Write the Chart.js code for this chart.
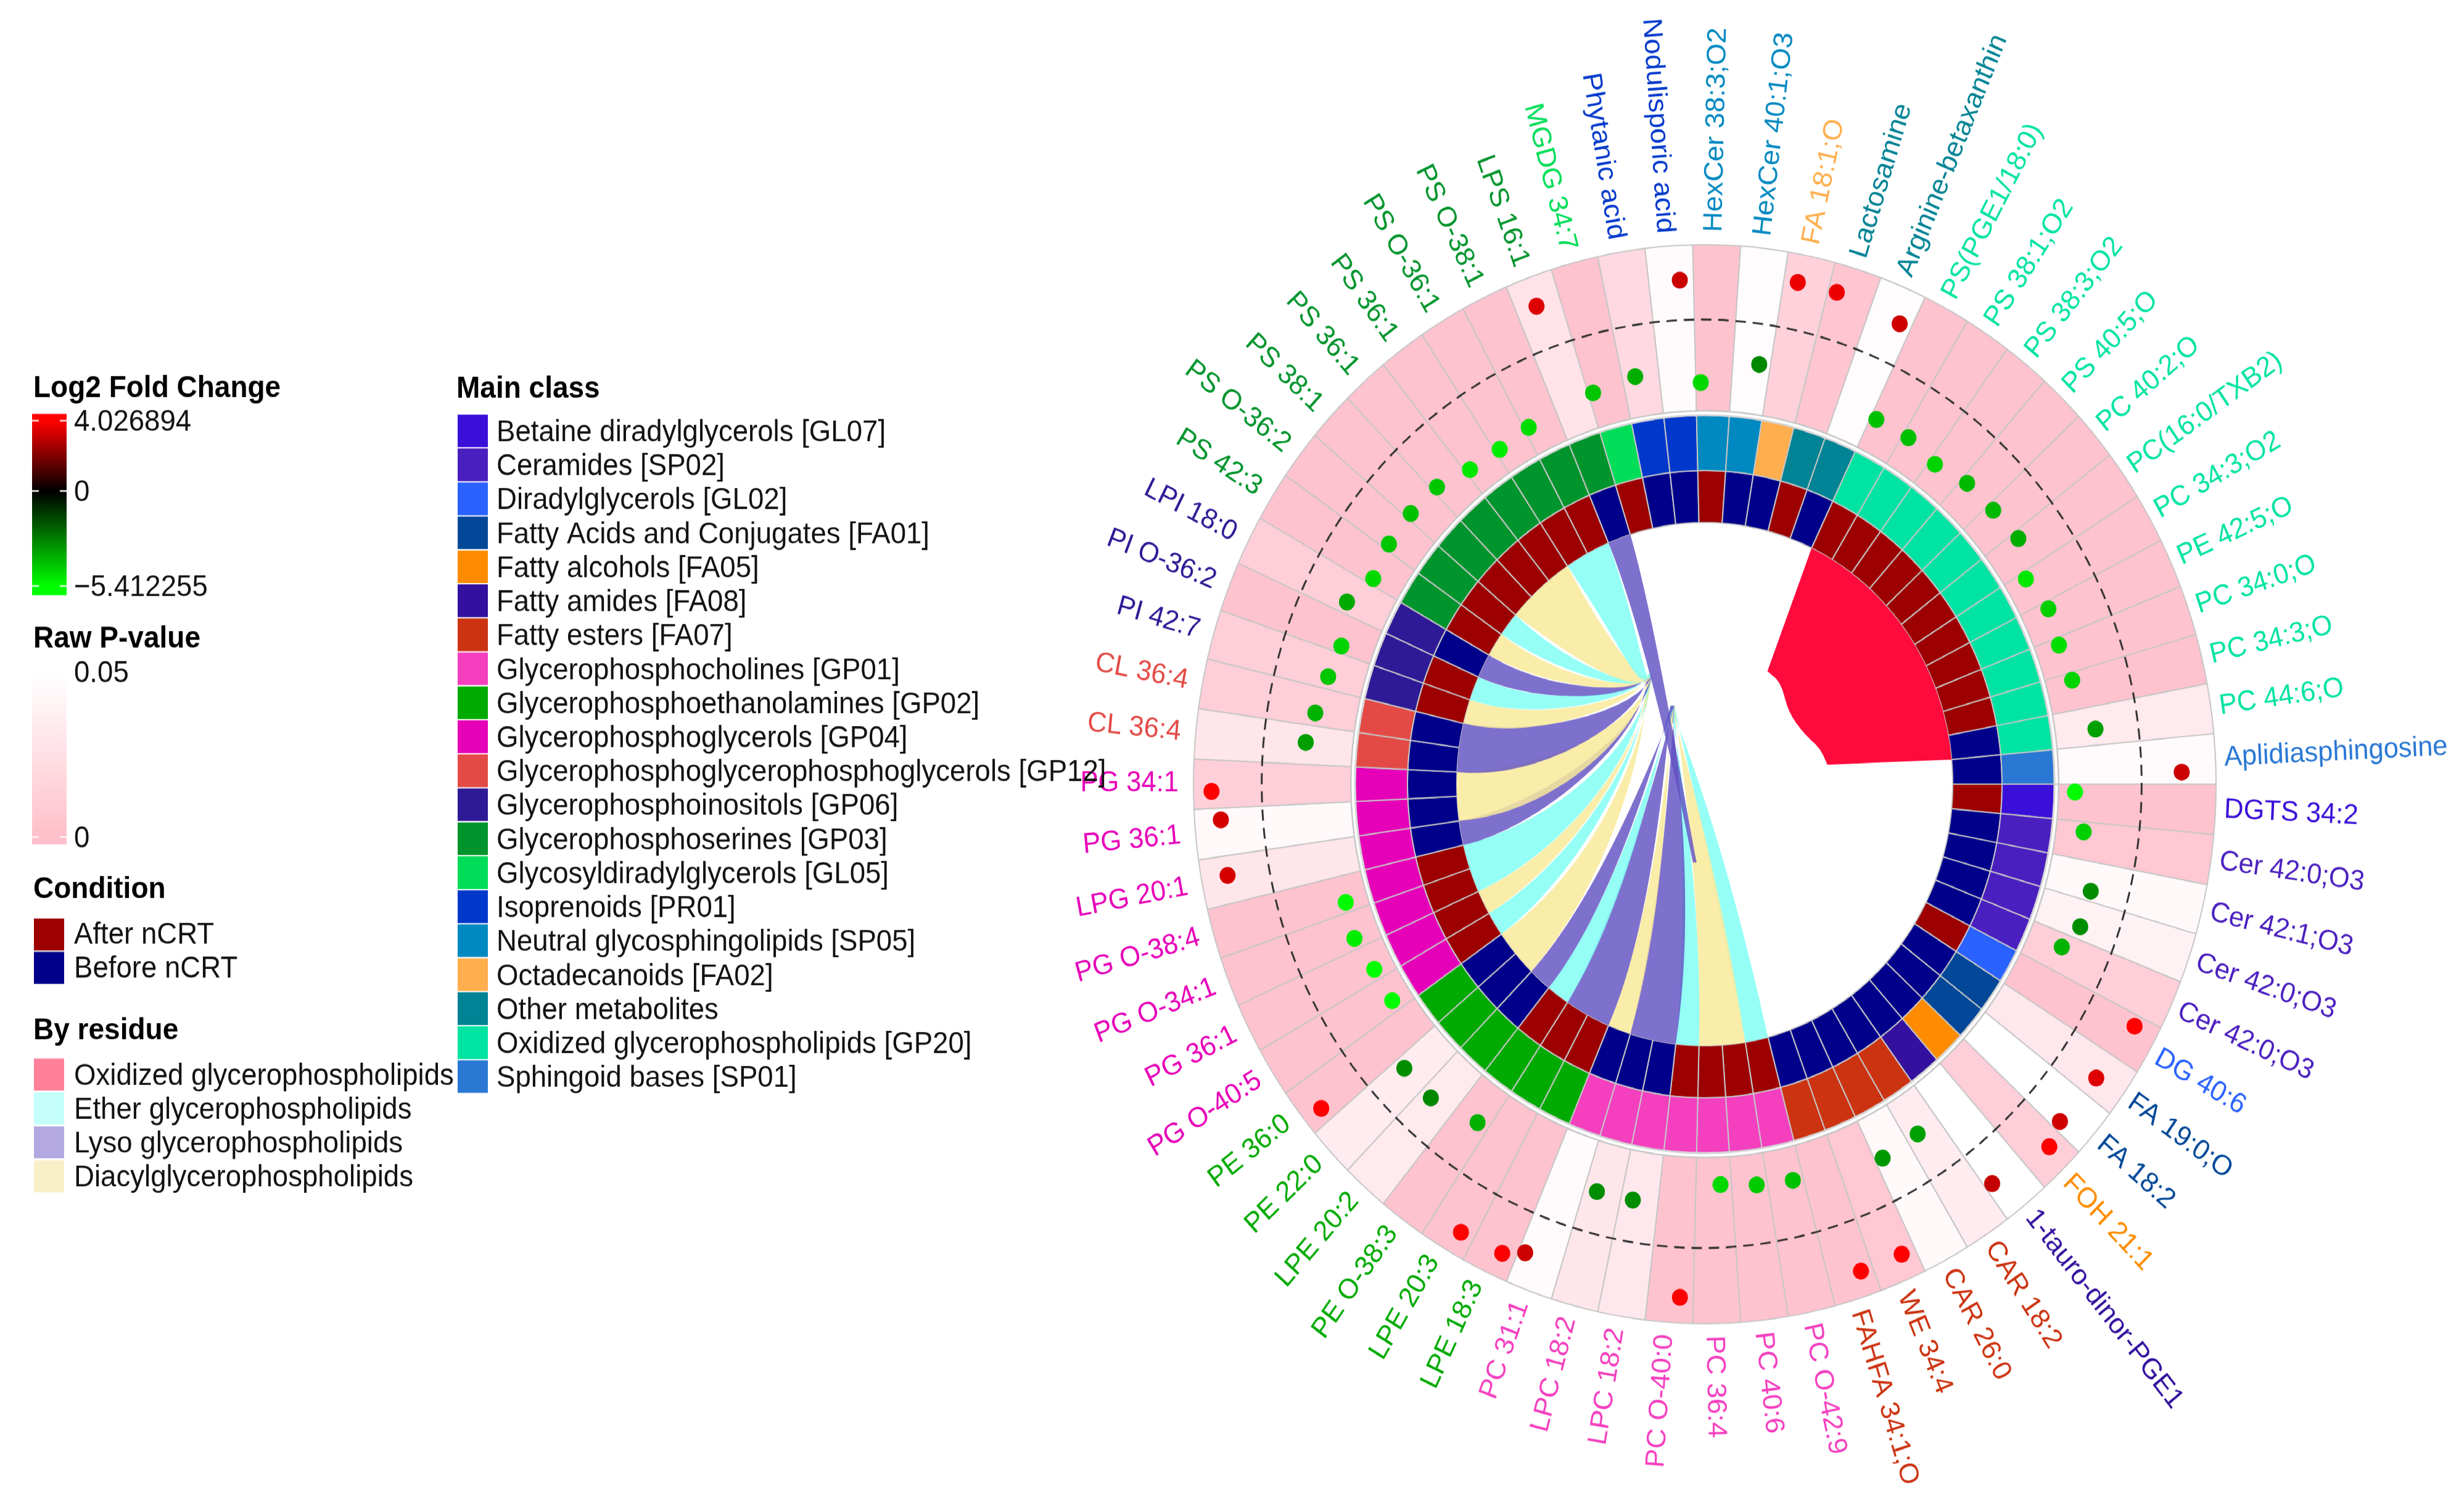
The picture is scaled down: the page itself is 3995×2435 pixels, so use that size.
<!DOCTYPE html>
<html>
<head>
<meta charset="utf-8">
<style>
  html, body { margin: 0; padding: 0; background: #fff; width: 3995px; height: 2435px; }
  html { overflow: hidden; }
  #wrap { position: relative; width: 3995px; height: 2308px; transform-origin: 0 0; transform: scale(1, 1.05503); }
  #wrap canvas { position: absolute; left: 0; top: 0; }
</style>
<script src="https://cdn.jsdelivr.net/npm/chart.js@4"></script>
</head>
<body>
<div id="wrap">
  <canvas id="rings" width="3995" height="2308"></canvas>
  <canvas id="dots" width="3995" height="2308"></canvas>
</div>
<script>
// sectors run clockwise from 3 o'clock
const lipidNames = [
  "DGTS 34:2", "Cer 42:0;O3", "Cer 42:1;O3", "Cer 42:0;O3", "Cer 42:0;O3", "DG 40:6", "FA 19:0;O", "FA 18:2",
  "FOH 21:1", "1-tauro-dinor-PGE1", "CAR 18:2", "CAR 26:0", "WE 34:4", "FAHFA 34:1;O", "PC O-42:9", "PC 40:6",
  "PC 36:4", "PC O-40:0", "LPC 18:2", "LPC 18:2", "PC 31:1", "LPE 18:3", "LPE 20:3", "PE O-38:3", "LPE 20:2",
  "PE 22:0", "PE 36:0", "PG O-40:5", "PG 36:1", "PG O-34:1", "PG O-38:4", "LPG 20:1", "PG 36:1", "PG 34:1",
  "CL 36:4", "CL 36:4", "PI 42:7", "PI O-36:2", "LPI 18:0", "PS 42:3", "PS O-36:2", "PS 38:1", "PS 36:1", "PS 36:1",
  "PS O-36:1", "PS O-38:1", "LPS 16:1", "MGDG 34:7", "Phytanic acid", "Nodulisporic acid", "HexCer 38:3;O2",
  "HexCer 40:1;O3", "FA 18:1;O", "Lactosamine", "Arginine-betaxanthin", "PS(PGE1/18:0)", "PS 38:1;O2", "PS 38:3;O2",
  "PS 40:5;O", "PC 40:2;O", "PC(16:0/TXB2)", "PC 34:3;O2", "PE 42:5;O", "PC 34:0;O", "PC 34:3;O", "PC 44:6;O",
  "Aplidiasphingosine"
];
const classNames = [
  "Betaine diradylglycerols [GL07]", "Ceramides [SP02]", "Diradylglycerols [GL02]", "Fatty Acids and Conjugates [FA01]",
  "Fatty alcohols [FA05]", "Fatty amides [FA08]", "Fatty esters [FA07]", "Glycerophosphocholines [GP01]",
  "Glycerophosphoethanolamines [GP02]", "Glycerophosphoglycerols [GP04]",
  "Glycerophosphoglycerophosphoglycerols [GP12]", "Glycerophosphoinositols [GP06]", "Glycerophosphoserines [GP03]",
  "Glycosyldiradylglycerols [GL05]", "Isoprenoids [PR01]", "Neutral glycosphingolipids [SP05]", "Octadecanoids [FA02]",
  "Other metabolites", "Oxidized glycerophospholipids [GP20]", "Sphingoid bases [SP01]"
];
const classColors = [
  "#3a10d8", "#4a1fbf", "#2a62ff", "#034898", "#ff8c00", "#33109e", "#cc3311", "#f43fbf", "#00aa00", "#e600b8",
  "#e34a46", "#2e1a96", "#00942c", "#00dd58", "#0038cc", "#0088c0", "#ffae4d", "#008394", "#00e3a2", "#2a78d4"
];
const sectorClass = [
  0, 1, 1, 1, 1, 2, 3, 3, 4, 5, 6, 6, 6, 6, 7, 7, 7, 7, 7, 7, 7, 8, 8, 8, 8, 8, 8, 9, 9, 9, 9, 9, 9, 9, 10, 10,
  11, 11, 11, 12, 12, 12, 12, 12, 12, 12, 12, 13, 14, 14, 15, 15, 16, 17, 17, 18, 18, 18, 18, 18, 18, 18, 18, 18,
  18, 18, 19
];
// 1 = After nCRT, 0 = Before nCRT
const sectorCondition = [
  1, 0, 0, 0, 0, 1, 0, 0, 0, 0, 0, 0, 0, 0, 1, 1, 1, 1, 0, 0, 0, 1, 1, 1, 0, 0, 0, 1, 1, 1, 1, 0, 0, 0, 0, 0,
  1, 1, 0, 1, 1, 1, 1, 1, 1, 1, 0, 1, 0, 0, 1, 0, 0, 1, 0, 1, 1, 1, 1, 1, 1, 1, 1, 1, 1, 0, 0
];
const rawP = [
  0.002, 0.006, 0.045, 0.04, 0.012, 0.002, 0.032, 0.05, 0.012, 0.05, 0.035, 0.045, 0.006, 0.002, 0.002, 0.002,
  0.002, 0.002, 0.032, 0.03, 0.047, 0.002, 0.002, 0.002, 0.033, 0.035, 0.002, 0.002, 0.002, 0.002, 0.002, 0.03,
  0.045, 0.012, 0.03, 0.012, 0.012, 0.002, 0.012, 0.002, 0.002, 0.002, 0.002, 0.002, 0.002, 0.002, 0.028, 0.002,
  0.02, 0.047, 0.002, 0.048, 0.014, 0.004, 0.048, 0.002, 0.002, 0.002, 0.002, 0.002, 0.002, 0.002, 0.002, 0.002,
  0.002, 0.033, 0.046
];
const log2FC = [
  -5.3, -4.4, -3.0, -3.0, -3.8, 4.03, 3.5, 3.3, 4.0, 3.1, -3.4, -3.2, 4.03, 4.03, -4.1, -4.3, -4.6, 3.95, -3.0, -3.0,
  3.2, 3.95, 4.0, -3.75, -2.9, -3.0, 4.0, -5.41, -5.41, -5.0, -5.3, 3.35, 3.35, 4.0, -3.35, -3.8, -4.2, -4.5, -3.6,
  -4.6, -4.2, -4.1, -4.2, -4.9, -5.0, -4.7, 3.5, -4.15, -3.7, 3.2, -4.6, -2.9, 3.75, 3.75, 3.25, -4.1, -4.05, -4.5,
  -3.95, -3.9, -3.7, -4.9, -4.4, -4.7, -4.5, -3.4, 3.2
];
// chord bands: first sector, end sector, residue
const chordStart = [14, 15, 17, 18, 20, 21, 23, 24, 25, 27, 28, 29, 31, 32, 34, 36, 37, 38, 39, 40, 41, 44, 46];
const chordEnd = [15, 17, 18, 20, 21, 23, 24, 25, 27, 28, 29, 31, 32, 34, 36, 37, 38, 39, 40, 41, 44, 46, 47];
const chordResidue = ["E", "D", "E", "L", "D", "L", "E", "L", "D", "E", "D", "E", "L", "D", "L", "D", "E", "L", "D", "E", "D", "E", "L"];
// ribbon shape: where each band narrows, and how wide it is there (shares of the inner radius)
const chordWaist = [0.3, 0.42, 0.5, 0.5, 0.55, 0.6, 0.6, 0.62, 0.6, 0.66, 0.64, 0.6, 0.7, 0.62, 0.66, 0.7, 0.7, 0.7, 0.7, 0.7, 0.68, 0.62, 0.66];
const chordNeck = [0.025, 0.03, 0.02, 0.05, 0.015, 0.05, 0.02, 0.025, 0.03, 0.02, 0.015, 0.04, 0.03, 0.06, 0.06, 0.025, 0.02, 0.02, 0.015, 0.015, 0.05, 0.03, 0.02];
// oxidized block: inner edge of the self link, sector position and share of the inner radius
const oxEdgeSector = [55.9, 57.4, 59.7, 62.3, 63.9, 65.4];
const oxEdgeRadius = [0.5, 0.495, 0.435, 0.445, 0.485, 0.5];

const conditionNames = ["After nCRT", "Before nCRT"];
const conditionColors = ["#9c0000", "#00008b"];
const residueNames = ["Oxidized glycerophospholipids", "Ether glycerophospholipids", "Lyso glycerophospholipids", "Diacylglycerophospholipids"];
const residueSwatch = ["#ff8099", "#c4fffa", "#b3a9e0", "#faf0c8"];
const residueChord = { E: "rgba(130,255,245,0.85)", D: "rgba(249,234,155,0.85)", L: "rgba(98,82,195,0.82)" };
const fcTicks = ["4.026894", "0", "\u22125.412255"];
const pTicks = ["0.05", "0"];

const SY = 2435 / 2308;
const CX = 2764, CY = 1205, FONT = '"Liberation Sans", Arial, sans-serif';
const N = lipidNames.length;

function mix(a, b, t) {
  return "rgb(" + a.map((v, i) => Math.round(v + (b[i] - v) * t)).join(",") + ")";
}
const pColor = p => mix([255, 192, 205], [255, 255, 255], Math.min(p / 0.05, 1));
const fcColor = v => v >= 0 ? mix([0, 0, 0], [255, 0, 0], v / 4.026894) : mix([0, 0, 0], [0, 255, 0], -v / 5.412255);
const radial = v => 718 + 20.5 * v;

// chords and the oxidized block inside the inner ring
const chordPlugin = {
  id: "chords",
  afterDatasetsDraw(chart) {
    const ctx = chart.ctx;
    const arcs = chart.getDatasetMeta(3).data;
    const c = arcs[0], R = c.innerRadius;
    const pt = (a, k) => [c.x + Math.cos(a) * R * k, c.y + Math.sin(a) * R * k];
    const sectorAngle = s => arcs[0].startAngle + (arcs[0].endAngle - arcs[0].startAngle) * s;
    const topHub = [c.x - 0.22 * R, c.y - 0.42 * R];
    const spineHub = [c.x - 0.13 * R, c.y - 0.3 * R];
    const downHub = [c.x - 0.04 * R, c.y + 0.3 * R];
    ctx.save();
    chordStart.forEach((s, i) => {
      const a0 = sectorAngle(s), a1 = sectorAngle(chordEnd[i]);
      const low = s < 25;
      const hub = s === 46 ? downHub : (low ? spineHub : topHub);
      const waist = pt((a0 + a1) / 2, chordWaist[i]);
      const p0 = pt(a0, 1), p1 = pt(a1, 1);
      const len = Math.hypot(p1[0] - p0[0], p1[1] - p0[1]);
      const nx = (p1[0] - p0[0]) / len * chordNeck[i] * R, ny = (p1[1] - p0[1]) / len * chordNeck[i] * R;
      // second control: drop to the hub height for bands coming in from the left
      const bend = (low || s === 46)
        ? [(waist[0] + hub[0] * 2) / 3, (waist[1] + hub[1] * 2) / 3]
        : [hub[0] - 0.03 * R, hub[1] + Math.max(0.08, 0.45 * (waist[1] - hub[1]) / R) * R];
      ctx.beginPath();
      ctx.arc(c.x, c.y, R, a0, a1);
      ctx.bezierCurveTo(waist[0] + nx * 1.4, waist[1] + ny * 1.4, bend[0] + nx * 0.4, bend[1] + ny * 0.4, hub[0] + 3, hub[1]);
      ctx.lineTo(hub[0] - 3, hub[1]);
      ctx.bezierCurveTo(bend[0] - nx * 0.4, bend[1] - ny * 0.4, waist[0] - nx * 1.4, waist[1] - ny * 1.4, p0[0], p0[1]);
      ctx.closePath();
      ctx.fillStyle = residueChord[chordResidue[i]];
      ctx.fill();
    });
    // self link of the oxidized group
    const edge = oxEdgeSector.map((s, i) => pt(sectorAngle(s), oxEdgeRadius[i]));
    ctx.beginPath();
    ctx.arc(c.x, c.y, R, sectorAngle(55), sectorAngle(66));
    edge.slice().reverse().forEach((p, i, list) => {
      if (i === 0) { ctx.lineTo(p[0], p[1]); return; }
      const q = list[i - 1];
      ctx.quadraticCurveTo(q[0], q[1], (p[0] + q[0]) / 2, (p[1] + q[1]) / 2);
    });
    ctx.lineTo(edge[0][0], edge[0][1]);
    ctx.closePath();
    ctx.fillStyle = "#ff0a3c";
    ctx.fill();
    ctx.restore();
  }
};

new Chart(document.getElementById("rings"), {
  type: "doughnut",
  data: {
    labels: lipidNames,
    datasets: [
      { data: lipidNames.map(() => 1), weight: 255, backgroundColor: rawP.map(pColor), borderColor: "#c6c6c6", borderWidth: 2 },
      { data: [1], weight: 7, backgroundColor: "#ffffff", borderColor: "#d4d4d4", borderWidth: 3 },
      { data: lipidNames.map(() => 1), weight: 85, backgroundColor: sectorClass.map(k => classColors[k]), borderColor: "#c6c6c6", borderWidth: 2 },
      { data: lipidNames.map(() => 1), weight: 80, backgroundColor: sectorCondition.map(k => k ? conditionColors[0] : conditionColors[1]), borderColor: "#c6c6c6", borderWidth: 2 }
    ]
  },
  options: {
    responsive: false,
    animation: false,
    devicePixelRatio: 1,
    rotation: 90,
    cutout: 402,
    layout: { padding: { left: CX - 830, right: 3995 - CX - 830, top: CY - 830, bottom: 2308 - CY - 830 } },
    plugins: { legend: { display: false }, tooltip: { enabled: false } }
  },
  plugins: [chordPlugin]
});

// dashed zero circle under the dots
const zeroCircle = {
  id: "zeroCircle",
  beforeDatasetsDraw(chart) {
    const ctx = chart.ctx;
    const px = chart.scales.x.getPixelForValue(0), py = chart.scales.y.getPixelForValue(0);
    const r = chart.scales.x.getPixelForValue(radial(0)) - px;
    ctx.save();
    ctx.setLineDash([17, 11]);
    ctx.lineWidth = 3;
    ctx.strokeStyle = "#333";
    ctx.beginPath();
    ctx.arc(px, py, r, 0, Math.PI * 2);
    ctx.stroke();
    ctx.restore();
  }
};

// lipid names round the outside
const nameLabels = {
  id: "nameLabels",
  afterDraw(chart) {
    const ctx = chart.ctx;
    const px = chart.scales.x.getPixelForValue(0), py = chart.scales.y.getPixelForValue(0);
    ctx.save();
    ctx.font = "43.5px " + FONT;
    ctx.textBaseline = "middle";
    lipidNames.forEach((name, i) => {
      const a = (i + 0.5) / N * Math.PI * 2;
      const flip = Math.cos(a) < 0;
      ctx.save();
      ctx.translate(px + Math.cos(a) * 848, py + Math.sin(a) * 848);
      ctx.rotate(flip ? a + Math.PI : a);
      ctx.textAlign = flip ? "right" : "left";
      ctx.fillStyle = classColors[sectorClass[i]];
      ctx.fillText(name, 0, 0);
      ctx.restore();
    });
    ctx.restore();
  }
};

// legends on the left, y given in page pixels
const legendPanel = {
  id: "legendPanel",
  afterDraw(chart) {
    const ctx = chart.ctx;
    const Y = v => v / SY;
    const title = (t, x, y) => {
      ctx.font = "bold 46px " + FONT;
      ctx.fillStyle = "#000";
      ctx.fillText(t, x, Y(y + 3));
    };
    const label = (t, x, y) => {
      ctx.font = "45.6px " + FONT;
      ctx.fillStyle = "#111";
      ctx.fillText(t, x, Y(y + 3));
    };
    const bar = (top, bottom, stops, ticks) => {
      const g = ctx.createLinearGradient(0, Y(top), 0, Y(bottom));
      stops.forEach(s => g.addColorStop(s[0], s[1]));
      ctx.fillStyle = g;
      ctx.fillRect(52, Y(top), 56, Y(bottom) - Y(top));
      ctx.fillStyle = "#fff";
      ticks.forEach(t => {
        ctx.fillRect(52, Y(t) - 1, 11, 2);
        ctx.fillRect(97, Y(t) - 1, 11, 2);
      });
    };
    ctx.save();
    ctx.textBaseline = "middle";
    ctx.textAlign = "left";

    title("Log2 Fold Change", 54, 627);
    bar(671, 965, [[0, "#ff0000"], [0.04, "#ff0000"], [0.427, "#000000"], [0.95, "#00ff00"], [1, "#00ff00"]], [682, 796, 950]);
    [682, 796, 950].forEach((y, i) => label(fcTicks[i], 120, y));

    title("Raw P-value", 54, 1033);
    bar(1095, 1369, [[0, "#ffffff"], [0.95, "#ffc0cb"], [1, "#ffc0cb"]], [1357]);
    [1089, 1357].forEach((y, i) => label(pTicks[i], 120, y));

    title("Condition", 54, 1440);
    conditionNames.forEach((t, i) => {
      ctx.fillStyle = conditionColors[i];
      ctx.fillRect(55, Y(1489 + i * 54), 49, 52 / SY);
      label(t, 120, 1514 + i * 54);
    });

    title("By residue", 54, 1668);
    residueNames.forEach((t, i) => {
      ctx.fillStyle = residueSwatch[i];
      ctx.fillRect(55, Y(1716 + i * 55), 49, 52 / SY);
      label(t, 120, 1742 + i * 55);
    });

    title("Main class", 740, 628);
    classNames.forEach((t, i) => {
      ctx.fillStyle = classColors[i];
      ctx.fillRect(742, Y(672 + i * 55.1), 49, 53 / SY);
      label(t, 805, 699 + i * 55.1);
    });
    ctx.restore();
  }
};

new Chart(document.getElementById("dots"), {
  type: "scatter",
  data: {
    datasets: [{
      data: log2FC.map((v, i) => {
        // dots sit further along the sector as the p-value grows
        const a = (i + 0.2 + rawP[i] * 12) / N * Math.PI * 2;
        return { x: radial(v) * Math.cos(a), y: -radial(v) * Math.sin(a) };
      }),
      pointRadius: 13,
      pointBorderWidth: 0,
      pointBackgroundColor: log2FC.map(fcColor),
      clip: false
    }]
  },
  options: {
    responsive: false,
    animation: false,
    devicePixelRatio: 1,
    layout: { padding: 0 },
    scales: {
      x: { display: false, min: -CX, max: 3995 - CX },
      y: { display: false, min: CY - 2308, max: CY }
    },
    plugins: { legend: { display: false }, tooltip: { enabled: false } }
  },
  plugins: [zeroCircle, nameLabels, legendPanel]
});
</script>
</body>
</html>
